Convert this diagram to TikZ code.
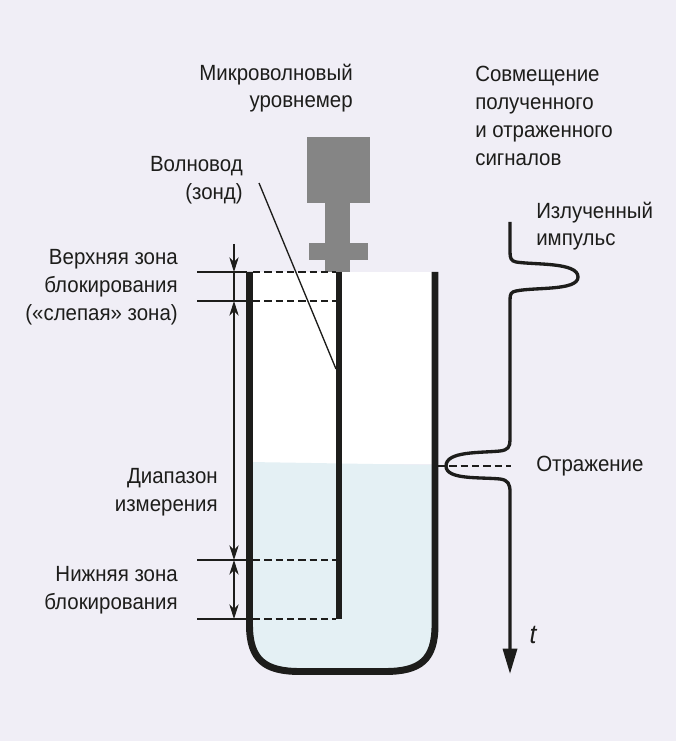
\documentclass[tikz,border=0pt]{standalone}
\usepackage{fontspec}
\setmainfont[FakeStretch=0.93]{Liberation Sans}
\usetikzlibrary{arrows.meta}
\definecolor{bgcolor}{HTML}{F0EEF6}
\definecolor{liquid}{HTML}{E4F0F4}
\definecolor{sensor}{HTML}{858585}
\definecolor{ink}{HTML}{1D1D1B}
\begin{document}
\begin{tikzpicture}[x=0.75pt,y=-0.75pt,
    dimtip/.tip={Stealth[length=11pt,width=7pt,inset=3.5pt]},
    lbl/.style={inner sep=0pt,font=\fontsize{16.5}{20.8}\selectfont,text=ink},
    lblr/.style={lbl,align=right,anchor=east},
    lbll/.style={lbl,align=left,anchor=west},
    wall/.style={line width=5.2pt,ink},
    trace/.style={line width=2.5pt,ink},
    thin/.style={line width=0.8pt,ink},
    cut/.style={line width=0.8pt,ink,dash pattern=on 5.5pt off 3pt}]
      \useasboundingbox (0,0) rectangle (676,741);
      \fill[bgcolor] (0,0) rectangle (676,741);
      % tank contents
      \fill[white] (249,272) rectangle (435,464);
      \fill[liquid] (249.5,462) -- (435,465) -- (435,625) .. controls (435,660) and (420,671.5) .. (385,671.5) -- (300,671.5) .. controls (265,671.5) and (249.5,660) .. (249.5,625) -- cycle;
      % sensor
      \fill[sensor] (307,137.5) rectangle (369.5,203);
      \fill[sensor] (325,203) rectangle (350,272);
      \fill[sensor] (309,243) rectangle (368,260);
      % levels
      \coordinate (top) at (234,272);
      \coordinate (blind) at (234,301);
      \coordinate (low) at (234,560);
      \coordinate (end) at (234,619);
      \coordinate (above) at (234,244);
      \draw[thin] (197,272) -- (247,272);
      \draw[thin] (197,301) -- (247,301);
      \draw[thin] (197,560) -- (247,560);
      \draw[thin] (197,619) -- (247,619);
      \draw[cut] (253,272) -- (336,272);
      \draw[cut] (253,301) -- (336,301);
      \draw[cut] (253,560) -- (336,560);
      \draw[cut] (253,619) -- (336,619);
      \draw[thin,-dimtip] (above) -- (top);
      \draw[thin] (top) -- (blind);
      \draw[thin,dimtip-dimtip] (blind) -- (low);
      \draw[thin,dimtip-dimtip] (low) -- (end);
      % tank
      \draw[wall] (249.5,272) -- (249.5,625) .. controls (249.5,660) and (265,671.5) .. (300,671.5) -- (385,671.5) .. controls (420,671.5) and (435,660) .. (435,625) -- (435,272);
      \draw[line width=4.5pt,ink] (339,272) -- (339,619);
      % probe leader
      \coordinate (lead) at (259,183);
      \coordinate (probe) at (336,369);
      \draw[line width=1pt,ink] (lead) -- (probe);
      % signal
      \draw[trace,-{Stealth[length=19pt,width=10.5pt,inset=0pt]}] (510,222) -- (510,252) .. controls (510,258) and (511,261) .. (516,262) .. controls (535,265) and (578,262) .. (578,277) .. controls (578,291) and (535,287) .. (516,291) .. controls (511,292) and (510,294) .. (510,300) -- (510,440) .. controls (510,447) and (508,450) .. (500,451) .. controls (480,453) and (446,451) .. (446,466) .. controls (446,480) and (480,477) .. (500,479) .. controls (508,480) and (510,484) .. (510,492) -- (510,674);
      \draw[cut] (438,466) -- (511,466);
      % labels
      \node[lblr] (gauge) at (353,88) {Микроволновый\\уровнемер};
      \node[lbll] (merge) at (475,116) {Совмещение\\полученного\\и отраженного\\сигналов};
      \node[lblr] (guide) at (243,180) {Волновод\\(зонд)};
      \node[lbll] (pulse) at (536,226) {Излученный\\импульс};
      \node[lblr] (upper) at (178,287) {Верхняя зона\\блокирования\\(«слепая» зона)};
      \node[lblr] (range) at (218,492.5) {Диапазон\\измерения};
      \node[lblr] (lower) at (178,590) {Нижняя зона\\блокирования};
      \node[lbll] (echo) at (536,466) {Отражение};
      \node[lbl,anchor=center,font=\fontsize{20}{20}\selectfont] (time) at (533,635) {\itshape t};
\end{tikzpicture}
\end{document}
